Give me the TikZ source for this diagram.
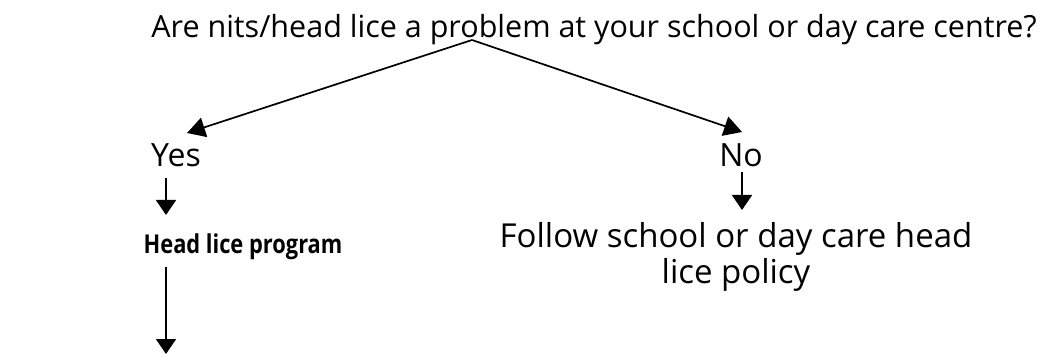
\documentclass[tikz,border=0pt]{standalone}
\usepackage{fontspec}
\setmainfont{Open Sans}
\usetikzlibrary{arrows.meta}
\begin{document}
\begin{tikzpicture}[x=1pt,y=-1pt,
  txt/.style={inner sep=0pt, font=\fontsize{32}{36}\selectfont},
  conn/.style={line width=1.7pt, -{Triangle[length=18pt,width=20pt]}}]
\useasboundingbox (0,0) rectangle (1051,363);
\node[txt, font=\fontsize{30.5}{36}\selectfont] (q) at (594,30) {Are nits/head lice a problem at your school or day care centre?};
\coordinate (split) at (472,40);
\node[txt] (yes) at (176,155) {Yes};
\node[txt] (no) at (741,155) {No};
\node[txt, font=\fontsize{26}{30}\selectfont\bfseries] (hlp) at (243,247) {\scalebox{0.84}[1]{Head lice program}};
\node[txt, align=center, font=\fontsize{33}{36}\selectfont] (follow) at (736,257) {Follow school or day care head\\lice policy};
\coordinate (yt) at (187,133);
\coordinate (nt) at (742,132);
\draw[conn] (split) -- (yt);
\draw[conn] (split) -- (nt);
\coordinate (ya) at (166,178);
\coordinate (yb) at (166,215);
\draw[conn, -{Triangle[length=15pt,width=20pt]}] (ya) -- (yb);
\coordinate (na) at (742,172);
\coordinate (nb) at (742,210);
\draw[conn, -{Triangle[length=15pt,width=20pt]}] (na) -- (nb);
\coordinate (ha) at (166,267);
\coordinate (hb) at (166,354);
\draw[conn, -{Triangle[length=15pt,width=20pt]}] (ha) -- (hb);
\end{tikzpicture}
\end{document}
